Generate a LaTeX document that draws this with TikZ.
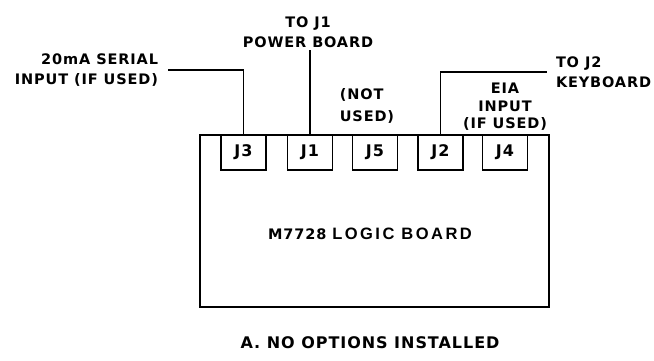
\documentclass[tikz,border=0pt]{standalone}
\usepackage{fontspec}
\usetikzlibrary{positioning}
\newfontfamily\lettering{DejaVu Sans}[LetterSpace=6]
\newfontfamily\widelettering{Liberation Sans}[LetterSpace=15]

\begin{document}
\begin{tikzpicture}[x=1pt,y=-1pt,
  font=\lettering\bfseries\fontsize{14.5}{20}\selectfont,
  jack/.style={draw,line width=1.7pt,minimum width=45pt,minimum height=35pt,inner sep=0pt,anchor=north,
    font=\lettering\bfseries\fontsize{16}{20}\selectfont},
  lbl/.style={inner sep=0pt,outer sep=3pt},
  lead/.style={line width=1.2pt}]
\useasboundingbox (0,0) rectangle (654,360);

% Logic board and its jacks
\node[draw,line width=1.9pt,minimum width=349pt,minimum height=172pt,inner sep=0pt,anchor=north west] (board) at (199,134) {};
\foreach \n/\x in {3/243.5,1/310,5/375,2/440.5,4/505}
    \node[jack] (j\n) at (\x,134) {J\n};
\node[lbl] (title) at (370,234) {M7728 {\widelettering\bfseries\fontsize{16.5}{20}\selectfont LOGIC BOARD}};

% Cable labels
\node[lbl,align=right,anchor=east,outer xsep=10pt] (serial) at (168,70) {20mA SERIAL\\INPUT (IF USED)};
\node[lbl,align=center] (power) at (308,32) {TO J1\\POWER BOARD};
\node[lbl,align=left,anchor=west,outer xsep=9pt] (keyboard) at (547,72) {TO J2\\KEYBOARD};
\node[lbl,align=left,font=\lettering\bfseries\fontsize{14.5}{22}\selectfont] (notused) at (367,106) {(NOT\\USED)};
\node[lbl,align=center,font=\lettering\bfseries\fontsize{14.5}{17.5}\selectfont] (eia) at (505,107) {EIA\\INPUT\\(IF USED)};

% Leads
\draw[lead] (j3.north) |- (serial.east);
\draw[lead] (j1.north) -- (power.south -| j1.north);
\draw[lead] (j2.north) |- (keyboard.west);

% Caption
\node[lbl,font=\lettering\bfseries\fontsize{16}{20}\selectfont] (caption) at (370,343) {A. NO OPTIONS INSTALLED};

\end{tikzpicture}
\end{document}
